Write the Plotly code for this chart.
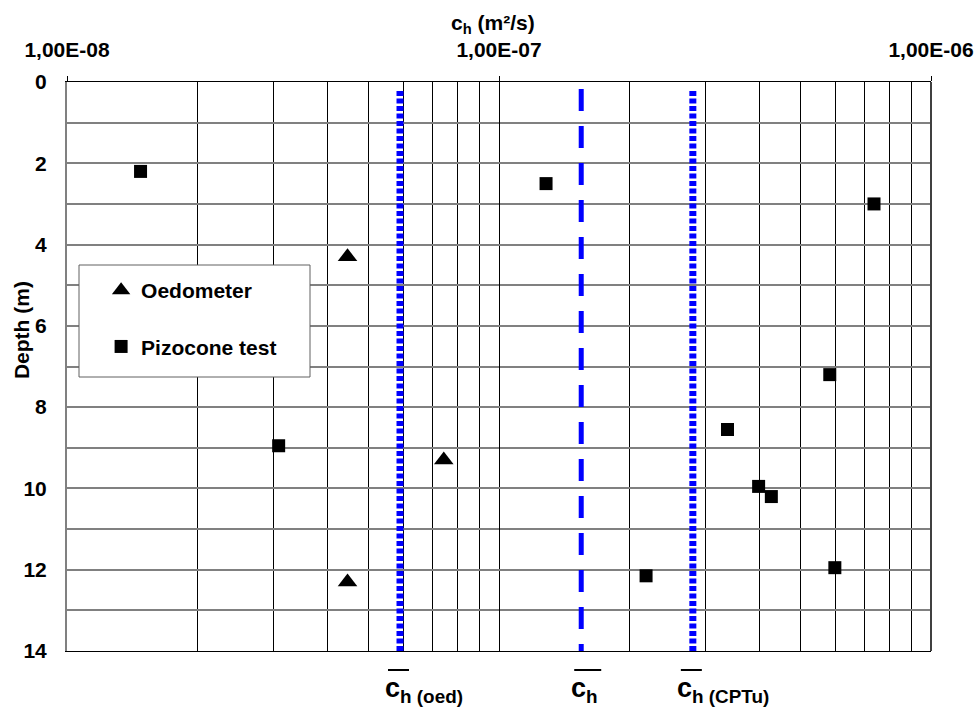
import math
import plotly.graph_objects as go

# ---- data ----
oed_ch = [4.46e-8, 7.45e-8, 4.46e-8]
oed_depth = [4.3, 9.3, 12.3]

cptu_ch = [1.48e-8, 1.285e-7, 7.38e-7, 5.83e-7, 3.09e-8, 3.38e-7, 3.99e-7, 4.27e-7, 2.19e-7, 5.99e-7]
cptu_depth = [2.2, 2.5, 3.0, 7.2, 8.95, 8.55, 9.95, 10.2, 12.15, 11.95]

ref_names = ["oed", "mean", "cptu"]
ref_ch = [5.9e-8, 1.55e-7, 2.81e-7]
ref_top = [0.22, 0.17, 0.22]
ref_bottom = [14, 14, 14]
ref_labels = ["c<sub>h (oed)</sub>", "c<sub>h</sub>", "c<sub>h (CPTu)</sub>"]

decades = [1e-8, 1e-7, 1e-6]
decade_labels = ["1,00E-08", "1,00E-07", "1,00E-06"]
depth_ticks = list(range(0, 15, 2))
depth_minor = list(range(1, 14, 2))

FONT = "Liberation Sans, Arial, sans-serif"
BOLD = dict(family=FONT, color="black", weight="bold")

W, H = 979, 707
ML, MR, MT, MB = 67, 48, 82, 56
PW, PH = W - ML - MR, H - MT - MB

fig = go.Figure()

# reference lines
line_styles = {
    "oed": dict(color="#0000ff", width=7, dash="5px,2.5px"),
    "mean": dict(color="#0000ff", width=5, dash="22px,15px"),
    "cptu": dict(color="#0000ff", width=7, dash="5px,2.5px"),
}
label_shift = {"oed": -17, "mean": -12, "cptu": -18}
bar_px = {"oed": (-12, 9), "mean": (-7, 20), "cptu": (-12, 9)}

for name, xv, t, b in zip(ref_names, ref_ch, ref_top, ref_bottom):
    fig.add_trace(go.Scatter(x=[xv, xv], y=[t, b], mode="lines",
                             line=line_styles[name], showlegend=False, hoverinfo="skip"))

fig.add_trace(go.Scatter(x=oed_ch, y=oed_depth, mode="markers", name="Oedometer",
                         legendgroup="a",
                         marker=dict(symbol="triangle-up", size=17, color="black")))
fig.add_trace(go.Scatter(x=cptu_ch, y=cptu_depth, mode="markers", name="Pizocone test",
                         legendgroup="b",
                         marker=dict(symbol="square", size=13, color="black")))

# minor x grid values (2..9 per decade)
xminor = [k * d for d in decades[:-1] for k in range(2, 10)]

fig.update_xaxes(type="log", range=[-8, -6], side="top", automargin=False,
                 tickvals=decades, ticktext=decade_labels,
                 ticks="outside", ticklen=5, tickcolor="black",
                 showgrid=True, gridcolor="black", gridwidth=1,
                 minor=dict(tickvals=xminor, showgrid=True, gridcolor="black",
                            gridwidth=1, ticks=""),
                 showline=True, linecolor="black", linewidth=1, mirror=True,
                 zeroline=False, ticklabelstandoff=11,
                 tickfont=dict(size=21, **BOLD))
fig.update_yaxes(range=[14, 0], tickvals=depth_ticks,
                 automargin=False,
                 ticks="outside", ticklen=14, tickcolor="rgba(0,0,0,0)",
                 showgrid=True, gridcolor="#808080", gridwidth=2,
                 minor=dict(tickvals=depth_minor, showgrid=True, gridcolor="#808080",
                            gridwidth=2, ticks=""),
                 showline=True, linecolor="#808080", linewidth=2, mirror=False,
                 zeroline=False,
                 tickfont=dict(size=21, **BOLD))

# right border
fig.add_shape(type="line", xref="paper", yref="paper", x0=1, x1=1, y0=0, y1=1,
              line=dict(color="#404040", width=2))

# legend frame
fig.add_shape(type="rect", xref="paper", yref="paper", layer="above",
              x0=(79 - ML) / PW, x1=(310 - ML) / PW,
              y0=(H - MB - 377) / PH, y1=(H - MB - 265) / PH,
              fillcolor="white", line=dict(color="#606060", width=1))

# axis titles
fig.add_annotation(text="c<sub>h</sub> (m²/s)", xref="paper", yref="paper",
                   x=0.493, y=1, yshift=43, yanchor="bottom", showarrow=False,
                   font=dict(size=21, **BOLD))
fig.add_annotation(text="Depth (m)", xref="paper", yref="paper", textangle=-90,
                   x=0, xshift=-46, xanchor="center", y=0.564, yanchor="middle",
                   showarrow=False, font=dict(size=21, **BOLD))

# labels below reference lines with overbars
for name, xv, lab in zip(ref_names, ref_ch, ref_labels):
    frac = (math.log10(xv) - (-8)) / 2
    b0, b1 = bar_px[name]
    fig.add_shape(type="line", xref="paper", yref="paper",
                  x0=frac + b0 / PW, x1=frac + b1 / PW,
                  y0=-19 / PH, y1=-19 / PH, line=dict(color="black", width=2))
    fig.add_annotation(x=math.log10(xv), xref="x", y=0, yref="paper",
                       yshift=-20, xshift=label_shift[name],
                       text=lab, showarrow=False, xanchor="left", yanchor="top",
                       font=dict(size=27, **BOLD))

fig.update_layout(
    width=W, height=H,
    margin=dict(l=ML, r=MR, t=MT, b=MB),
    plot_bgcolor="white", paper_bgcolor="white",
    showlegend=True,
    legend=dict(x=0.014, y=(H - MB - 270) / PH, xanchor="left", yanchor="top",
                bgcolor="rgba(0,0,0,0)", borderwidth=0,
                tracegroupgap=26, itemwidth=30, indentation=22,
                font=dict(size=21, **BOLD)),
)

fig.write_html("out.html", config={"displayModeBar": False},
               post_script="document.body.style.margin='0';")
